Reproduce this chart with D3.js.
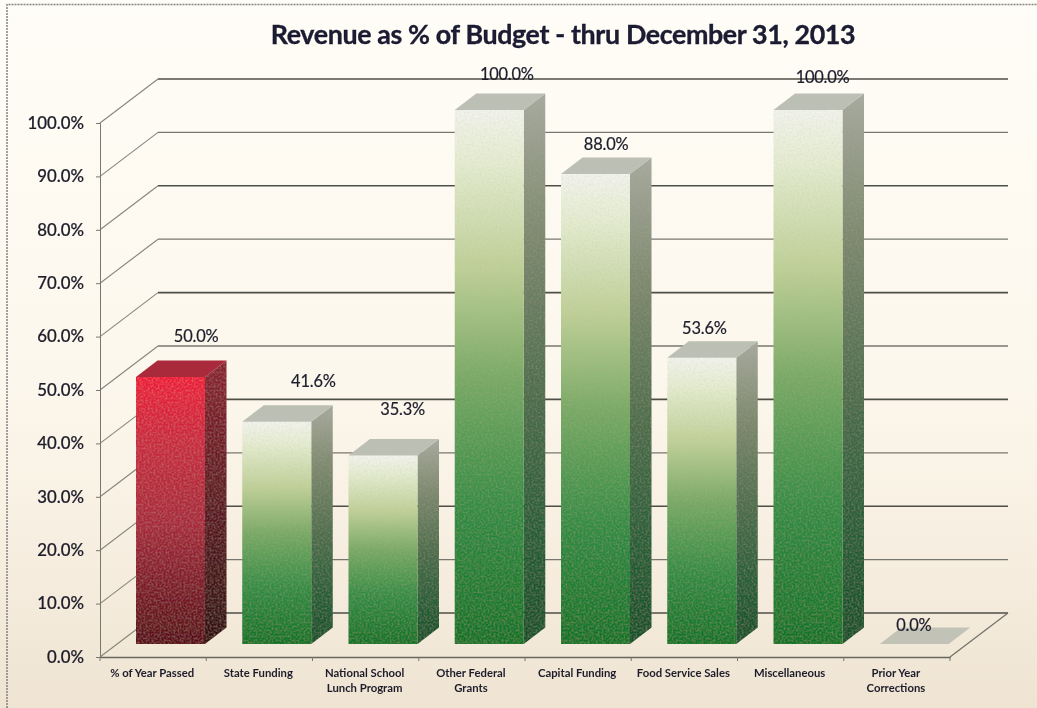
<!DOCTYPE html>
<html><head><meta charset="utf-8">
<script src="https://cdnjs.cloudflare.com/ajax/libs/d3/7.8.5/d3.min.js"></script>
<style>html,body{margin:0;padding:0;background:#fdfaf2;overflow:hidden}svg{display:block}text{font-family:Lato,"Open Sans",sans-serif}</style>
</head><body><svg id="c" width="1037" height="708"></svg>
<script>
const categories = ["% of Year Passed","State Funding","National School Lunch Program","Other Federal Grants","Capital Funding","Food Service Sales","Miscellaneous","Prior Year Corrections"];
const categoryLines = [["% of Year Passed"],["State Funding"],["National School","Lunch Program"],["Other Federal","Grants"],["Capital Funding"],["Food Service Sales"],["Miscellaneous"],["Prior Year","Corrections"]];
const values = [50.0,41.6,35.3,100.0,88.0,53.6,100.0,0.0];
const valueTicks = [0,10,20,30,40,50,60,70,80,90,100];
const title = "Revenue as % of Budget - thru December 31, 2013";
// layout
const labelShift = [[43,-48],[54,-48],[37,-53],[35,-43],[28,-37],[20,-37],[32,-40],[17,-26]];
const W=1037,H=708, depthX=58, depthY=44;
const x = d3.scaleBand().domain(categories).range([100,950]);
const y = d3.scaleLinear().domain([0,100]).range([657,123]);
const barW=69, barInsetX=36, barLift=13, sideX=21.5, sideY=16.5;

const svg = d3.select("#c");
const defs = svg.append("defs");
function grad(id,stops){
  const g=defs.append("linearGradient").attr("id",id).attr("x1",0).attr("y1",0).attr("x2",0).attr("y2",1);
  stops.forEach(s=>g.append("stop").attr("offset",s[0]).attr("stop-color",s[1]));
}
grad("bg",[[0,"#fffdf7"],[.55,"#fcf7ec"],[.8,"#f6eddf"],[1,"#efe4d2"]]);
grad("gf",[[0,"#f1f4ec"],[.1,"#e4ecd0"],[.3,"#bdd096"],[.5,"#78aa64"],[.75,"#2f8c42"],[1,"#0c7426"]]);
grad("gs",[[0,"#a6aa9e"],[.25,"#7d8a6f"],[.55,"#4a6d4a"],[.8,"#235f36"],[1,"#0f5228"]]);
grad("rf",[[0,"#ee1d3a"],[.25,"#c92a40"],[.55,"#a82a3c"],[.8,"#7c1a28"],[1,"#5a0f18"]]);
grad("rs",[[0,"#8c2230"],[.5,"#5e1a22"],[1,"#32100f"]]);
const nf=defs.append("filter").attr("id","grain").attr("x",0).attr("y",0).attr("width","100%").attr("height","100%");
nf.append("feTurbulence").attr("type","fractalNoise").attr("baseFrequency",.5).attr("numOctaves",2).attr("seed",4).attr("result","n");
nf.append("feColorMatrix").attr("in","n").attr("type","matrix").attr("values","0 0 0 0 .55  0 0 0 0 .42  0 0 0 0 .36  .5 0 0 0 -.2").attr("result","m");
nf.append("feComposite").attr("in","m").attr("in2","SourceGraphic").attr("operator","in").attr("result","c");
nf.append("feMerge").selectAll("feMergeNode").data(["SourceGraphic","c"]).join("feMergeNode").attr("in",d=>d);
const soft=defs.append("filter").attr("id","soft");
soft.append("feGaussianBlur").attr("stdDeviation",.4);

svg.append("rect").attr("width",W).attr("height",H).attr("fill","url(#bg)");
// paper frame
svg.append("path").attr("d","M7,708V4.5H1037").attr("fill","none").attr("stroke","#6f6f72").attr("stroke-width",1.5).attr("stroke-dasharray","2 1").attr("opacity",.85);

const chart = svg.append("g").attr("filter","url(#soft)");
// gridlines: back wall + left wall diagonals
const grid = chart.append("g").attr("fill","none");
valueTicks.forEach((t,i)=>{
  const dark = (i%2===0);
  grid.append("line").attr("x1",x.range()[0]+depthX).attr("x2",x.range()[1]+depthX)
    .attr("y1",y(t)-depthY).attr("y2",y(t)-depthY)
    .attr("stroke",dark?"#4f4f49":"#77776f").attr("stroke-width",dark?1.6:1.3);
  grid.append("line").attr("x1",x.range()[0]).attr("y1",y(t)).attr("x2",x.range()[0]+depthX).attr("y2",y(t)-depthY)
    .attr("stroke","#85857d").attr("stroke-width",1.1);
});
grid.append("line").attr("x1",x.range()[1]).attr("y1",y(0)).attr("x2",x.range()[1]+depthX).attr("y2",y(0)-depthY)
  .attr("stroke","#6f6f67").attr("stroke-width",1.2);

// axes
const yAxis = d3.axisLeft(y).tickValues(valueTicks).tickSize(4).tickPadding(12).tickFormat(d=>d.toFixed(1)+"%");
const gy = chart.append("g").attr("transform","translate(100,0)").call(yAxis);
gy.selectAll("path,line").attr("stroke","#77776f");
gy.selectAll("text").attr("font-size",16.8).attr("font-weight",500).attr("fill","#1c1c2a").attr("stroke","#1c1c2a").attr("stroke-width",.2);
const xAxis = d3.axisBottom(x).tickSize(0).tickFormat("");
const gx = chart.append("g").attr("transform","translate(0,657)").call(xAxis);
gx.select("path").attr("stroke","#66665e").attr("stroke-width",1.3);
gx.selectAll(".edge").data(d3.range(9)).join("line").attr("class","edge")
  .attr("x1",i=>100+i*x.step()).attr("x2",i=>100+i*x.step()).attr("y1",0).attr("y2",4).attr("stroke","#77776f");
categories.forEach((c,i)=>{
  categoryLines[i].forEach((ln,j)=>{
    chart.append("text").attr("x",x(c)+x.bandwidth()/2-1).attr("y",677+j*15).attr("text-anchor","middle")
      .attr("font-size",11.3).attr("font-weight",700).attr("fill","#1c1c2a").text(ln);
  });
});

// bars
const bars = chart.append("g");
categories.forEach((c,i)=>{
  const v=values[i], red=i===0;
  const x0=x(c)+barInsetX, x1=x0+barW;
  const yb=y(0)-barLift, yt=y(v)-barLift;
  const g=bars.append("g");
  if(v>0){
    g.append("path").attr("d",`M${x1},${yt}L${x1+sideX},${yt-sideY}V${yb-sideY}L${x1},${yb}Z`)
      .attr("fill",red?"url(#rs)":"url(#gs)").attr("filter","url(#grain)");
    g.append("rect").attr("x",x0).attr("y",yt).attr("width",barW).attr("height",yb-yt)
      .attr("fill",red?"url(#rf)":"url(#gf)").attr("filter","url(#grain)");
  }
  g.append("path").attr("d",`M${x0},${yt}L${x0+sideX},${yt-sideY}H${x1+sideX}L${x1},${yt}Z`)
    .attr("fill",red?"#a82a3a":"#bcbfb3").attr("opacity",v>0?1:.9);
});
// value labels
categories.forEach((c,i)=>{
  const v=values[i];
  chart.append("text").attr("x",x(c)+x.bandwidth()/2+labelShift[i][0]).attr("y",y(v)+labelShift[i][1])
    .attr("text-anchor","middle").attr("font-size",16.4).attr("letter-spacing",-.2).attr("fill","#1c1c2a")
    .attr("stroke","#1c1c2a").attr("stroke-width",.2).text(v.toFixed(1)+"%");
});
chart.append("text").attr("x",563).attr("y",44).attr("text-anchor","middle").attr("font-size",26.8).attr("font-weight",700)
  .attr("letter-spacing",-.36).attr("fill","#1a1a30").attr("stroke","#1a1a30").attr("stroke-width",.35).text(title);
</script></body></html>
